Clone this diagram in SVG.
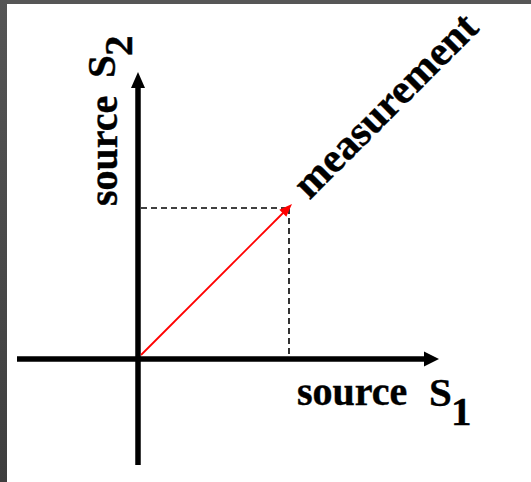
<svg xmlns="http://www.w3.org/2000/svg" width="531" height="482" viewBox="0 0 531 482">
  <defs>
    <linearGradient id="leftband" x1="0" y1="0" x2="0" y2="1">
      <stop offset="0" stop-color="#555555"/>
      <stop offset="1" stop-color="#3e3e3e"/>
    </linearGradient>
    <style>
      .lbl { font-family: "Liberation Serif", "Times New Roman", serif; font-weight: bold; font-size: 40px; fill: #000; stroke: #000; stroke-width: 0.4; }
      .axis { stroke: #000; stroke-width: 5.5; fill: none; }
      .dash { stroke: #000; stroke-width: 1.6; stroke-dasharray: 6 4; fill: none; }
      .vec { stroke: #ff0000; stroke-width: 1.8; fill: none; }
    </style>
  </defs>
  <rect x="0" y="0" width="531" height="482" fill="#ffffff"/>
  <rect x="0" y="0" width="531" height="4" fill="#565656"/>
  <rect x="0" y="0" width="7" height="482" fill="url(#leftband)"/>

  <g id="connectors">
    <line class="axis" x1="17" y1="359" x2="426" y2="359"/>
    <polygon points="439,359 424,351.5 424,366.5" fill="#000"/>
    <line class="axis" x1="138" y1="465" x2="138" y2="86"/>
    <polygon points="138,72 131,88 145,88" fill="#000"/>
    <line class="dash" x1="141" y1="208" x2="289" y2="208"/>
    <line class="dash" x1="289" y1="208" x2="289" y2="356"/>
    <line class="vec" x1="141" y1="355" x2="284" y2="212"/>
    <polygon points="292,204 286.3,216.7 279.3,209.7" fill="#ff0000"/>
  </g>

  <g id="label-s1">
    <text class="lbl"><tspan x="297" y="405">source</tspan><tspan x="429" y="406" font-size="41">S</tspan><tspan x="451" y="425" font-size="41">1</tspan></text>
  </g>
  <g id="label-s2">
    <text class="lbl" transform="translate(117,206) rotate(-90)"><tspan x="0" y="0">source</tspan><tspan x="128" y="-2" font-size="41">S</tspan><tspan x="150" y="15" font-size="41">2</tspan></text>
  </g>
  <g id="label-measurement">
    <text class="lbl" text-anchor="middle" style="font-size:42px" transform="translate(395,115) rotate(-45)">measurement</text>
  </g>
</svg>
